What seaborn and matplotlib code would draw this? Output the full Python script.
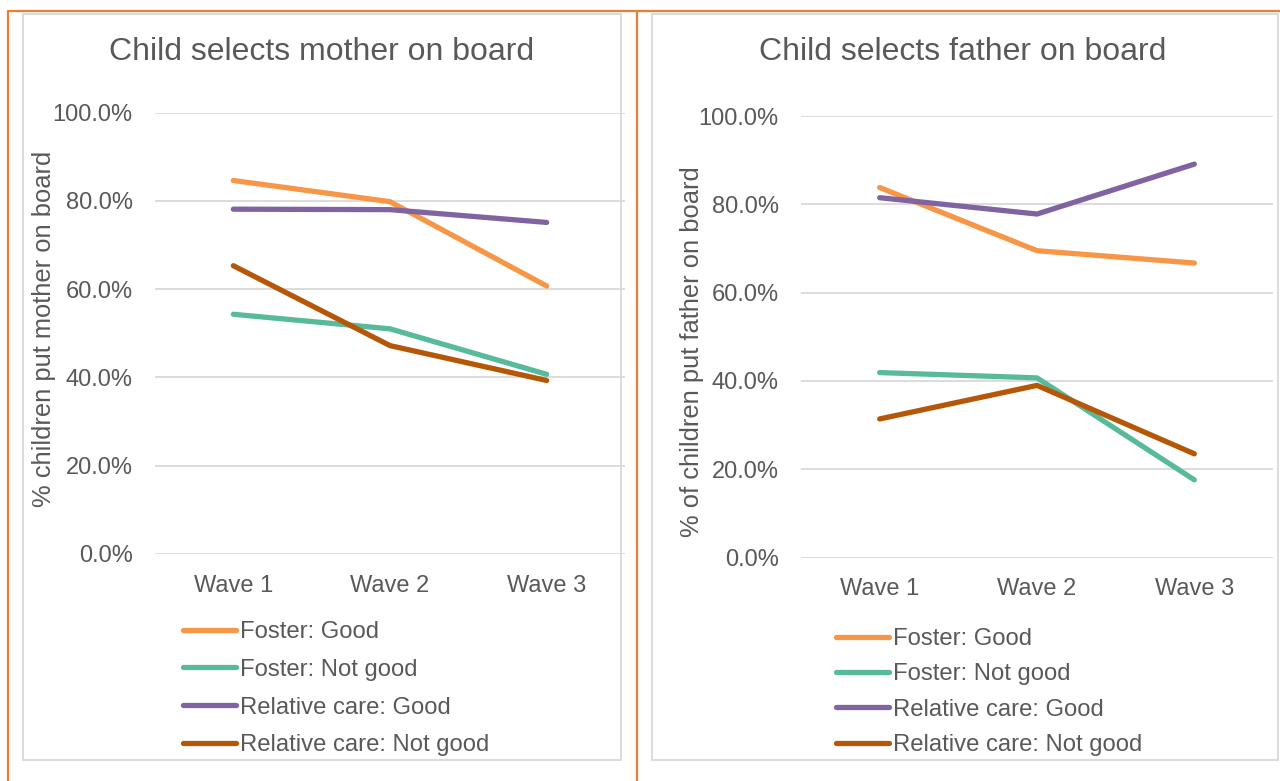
import pandas as pd
import matplotlib.pyplot as plt
import seaborn as sns
from matplotlib.ticker import PercentFormatter
from matplotlib.lines import Line2D
from matplotlib.patches import Rectangle

waves = ['Wave 1', 'Wave 2', 'Wave 3']
groups = ['Foster: Good', 'Foster: Not good', 'Relative care: Good', 'Relative care: Not good']

# mother on board (share of children)
mother_foster_good = [0.846, 0.798, 0.607]
mother_foster_not = [0.543, 0.510, 0.407]
mother_rel_good = [0.781, 0.780, 0.751]
mother_rel_not = [0.653, 0.472, 0.393]

# father on board
father_foster_good = [0.838, 0.695, 0.667]
father_foster_not = [0.419, 0.407, 0.176]
father_rel_good = [0.815, 0.778, 0.891]
father_rel_not = [0.314, 0.390, 0.235]

colors = ['#F79646', '#57BB9B', '#8064A2', '#B65708']
text_col = '#595959'
grid_col = '#D9D9D9'
border_col = '#ED7D31'

sns.set_style('white')
plt.rcParams['font.family'] = ['Liberation Sans', 'DejaVu Sans']


def to_long(series):
    rows = []
    for g, vals in zip(groups, series):
        for w, v in zip(waves, vals):
            rows.append({'wave': w, 'pct': v, 'group': g})
    return pd.DataFrame(rows)


df_m = to_long([mother_foster_good, mother_foster_not, mother_rel_good, mother_rel_not])
df_f = to_long([father_foster_good, father_foster_not, father_rel_good, father_rel_not])

fig = plt.figure(figsize=(12.8, 7.81), dpi=100)
W, H = 1280, 781


def fx(x):
    return x / W


def fy(y):
    return 1 - y / H


# frame decorations
fig.add_artist(Rectangle((fx(23), fy(760)), fx(621 - 23), (760 - 14) / H, transform=fig.transFigure,
                         fill=False, edgecolor=grid_col, linewidth=1.3))
fig.add_artist(Rectangle((fx(652), fy(760)), fx(1278 - 652), (760 - 14) / H, transform=fig.transFigure,
                         fill=False, edgecolor=grid_col, linewidth=1.3))
fig.add_artist(Line2D([fx(8), 1], [fy(11), fy(11)], color=border_col, lw=1.6))
fig.add_artist(Line2D([fx(8), fx(8)], [0, fy(11)], color=border_col, lw=1.6))
fig.add_artist(Line2D([fx(637), fx(637)], [0, fy(11)], color=border_col, lw=1.6))

panels = [
    (df_m, (155, 625, 112.5, 554), 'Child selects mother on board', '% children put mother on board',
     (322, 52), (44, 329), (183, 621), 0.66),
    (df_f, (801, 1273, 116, 557.6), 'Child selects father on board', '% of children put father on board',
     (963, 52), (692, 352), (836, 628), 0.56),
]

for df, (x0, x1, ytop, ybot), title, ylab, tpos, ypos, lpos, lspace in panels:
    ax = fig.add_axes([fx(x0), fy(ybot), (x1 - x0) / W, (ybot - ytop) / H])
    sns.lineplot(data=df, x='wave', y='pct', hue='group', palette=colors, ax=ax,
                 linewidth=3.8, sort=False, legend=False)
    for ln in ax.lines:
        ln.set_solid_capstyle('round')
        ln.set_solid_joinstyle('round')
    ax.set_xlim(-0.5, 2.5)
    ax.set_ylim(0, 1.0)
    ax.set_yticks([0, 0.2, 0.4, 0.6, 0.8, 1.0])
    ax.yaxis.set_major_formatter(PercentFormatter(1, decimals=1))
    ax.grid(axis='y', color=grid_col, linewidth=1.3)
    ax.set_axisbelow(True)
    for s in ax.spines.values():
        s.set_visible(False)
    ax.patch.set_alpha(0)
    ax.tick_params(axis='both', length=0, labelsize=17, labelcolor=text_col)
    ax.tick_params(axis='y', pad=16)
    ax.tick_params(axis='x', pad=15)
    ax.set_xlabel('')
    ax.set_ylabel('')
    fig.text(fx(tpos[0]), fy(tpos[1]), title, ha='center', va='center', fontsize=23, color=text_col)
    fig.text(fx(ypos[0]), fy(ypos[1]), ylab, ha='center', va='center', rotation=90, fontsize=18.4,
             color=text_col)
    handles = [Line2D([0], [0], color=c, lw=3.8, solid_capstyle='round') for c in colors]
    fig.legend(handles, groups, loc='upper left', bbox_to_anchor=(fx(lpos[0]), fy(lpos[1])),
               frameon=False, fontsize=17.2, labelcolor=text_col, handlelength=2.2,
               handletextpad=0.2, labelspacing=lspace, borderpad=0, borderaxespad=0)

fig.savefig('out.png', dpi=100)
